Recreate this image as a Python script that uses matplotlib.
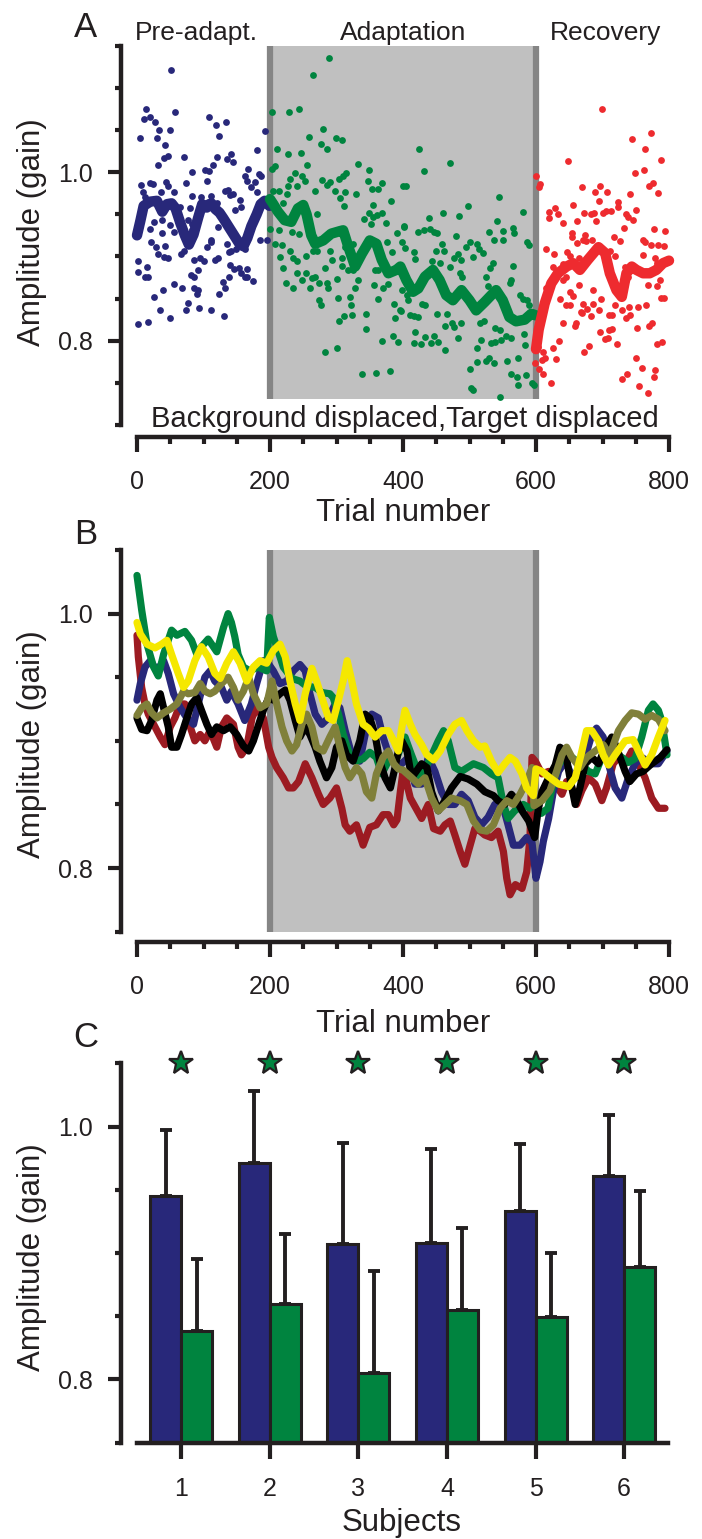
import numpy as np
import matplotlib
matplotlib.use("Agg")
import matplotlib.pyplot as plt
from matplotlib.ticker import MultipleLocator, FixedLocator, FormatStrFormatter

# ------------------------------------------
# Data - Panel A (single subject, trial by trial gain)
# ------------------------------------------

pre_dots = [
    (51, 1.121), (14, 1.075), (57, 1.071), (10, 1.063), (19, 1.065), (27, 1.060), (109, 1.065),
    (119, 1.056), (134, 1.059), (33, 1.050), (50, 1.050), (123, 1.043), (5, 1.040), (30, 1.040),
    (192, 1.049), (42, 1.032), (180, 1.026), (41, 1.017), (47, 1.019), (70, 1.018), (120, 1.018),
    (135, 1.015), (141, 1.021), (144, 1.012), (31, 1.008), (114, 1.009), (167, 1.004), (83, 1.000),
    (102, 1.003), (109, 1.001), (183, 0.998), (187, 0.996), (6, 0.985), (19, 0.987), (24, 0.986),
    (44, 0.988), (47, 0.983), (162, 0.996), (165, 0.990), (105, 0.989), (74, 0.987), (172, 0.982),
    (178, 0.988), (9, 0.976), (12, 0.970), (36, 0.977), (55, 0.976), (132, 0.978), (137, 0.979),
    (140, 0.973), (145, 0.974), (82, 0.972), (96, 0.970), (112, 0.972), (155, 0.967), (180, 0.976),
    (65, 0.959), (79, 0.957), (100, 0.963), (107, 0.965), (121, 0.963), (147, 0.955), (157, 0.959),
    (37, 0.943), (25, 0.941), (50, 0.937), (77, 0.943), (82, 0.938), (20, 0.933), (37, 0.928),
    (55, 0.929), (70, 0.928), (82, 0.931), (122, 0.935), (185, 0.919), (195, 0.919), (21, 0.917),
    (28, 0.911), (42, 0.912), (105, 0.911), (111, 0.920), (112, 0.917), (136, 0.915), (139, 0.905),
    (141, 0.907), (149, 0.909), (162, 0.909), (31, 0.903), (41, 0.899), (46, 0.898), (66, 0.903),
    (70, 0.906), (86, 0.896), (95, 0.898), (101, 0.894), (117, 0.896), (122, 0.898), (1, 0.895),
    (2, 0.882), (12, 0.876), (15, 0.887), (16, 0.875), (92, 0.884), (140, 0.890), (146, 0.885),
    (153, 0.886), (165, 0.885), (157, 0.880), (163, 0.875), (166, 0.876), (175, 0.871), (81, 0.878),
    (85, 0.875), (139, 0.876), (130, 0.870), (133, 0.863), (56, 0.867), (68, 0.862), (85, 0.862),
    (90, 0.856), (92, 0.860), (124, 0.855), (39, 0.860), (26, 0.852), (77, 0.845), (73, 0.837),
    (35, 0.836), (49, 0.827), (93, 0.839), (111, 0.836), (131, 0.829), (1, 0.820), (17, 0.822),
]

adapt_dots = [
    (289, 1.136), (265, 1.115), (203, 1.071), (229, 1.071), (244, 1.075), (280, 1.051), (258, 1.042),
    (299, 1.040), (308, 1.038), (276, 1.033), (285, 1.027), (211, 1.027), (227, 1.021), (247, 1.023),
    (256, 1.009), (332, 1.010), (349, 1.003), (203, 1.004), (208, 1.007), (238, 0.999), (248, 0.995),
    (252, 0.990), (230, 0.992), (227, 0.983), (241, 0.983), (278, 0.991), (285, 0.985), (290, 0.988),
    (304, 0.992), (310, 0.995), (314, 0.999), (268, 0.978), (298, 0.978), (313, 0.976), (330, 0.974),
    (348, 0.990), (354, 0.980), (363, 0.980), (369, 0.987), (400, 0.984), (305, 0.969), (312, 0.960),
    (355, 0.961), (382, 0.966), (204, 0.978), (213, 0.978), (225, 0.974), (220, 0.963), (349, 0.952),
    (355, 0.947), (361, 0.949), (369, 0.951), (374, 0.940), (341, 0.944), (352, 0.939), (271, 0.950),
    (391, 0.928), (401, 0.935), (200, 0.933), (214, 0.931), (233, 0.929), (243, 0.927), (208, 0.915),
    (218, 0.913), (230, 0.906), (254, 0.901), (265, 0.906), (270, 0.906), (290, 0.907), (313, 0.911),
    (325, 0.915), (376, 0.917), (383, 0.905), (398, 0.917), (215, 0.899), (220, 0.886), (235, 0.898),
    (240, 0.894), (293, 0.896), (308, 0.898), (309, 0.889), (317, 0.884), (325, 0.884), (358, 0.884),
    (363, 0.884), (386, 0.884), (240, 0.880), (248, 0.872), (254, 0.880), (263, 0.874), (282, 0.886),
    (224, 0.869), (234, 0.862), (268, 0.876), (274, 0.869), (285, 0.868), (287, 0.862), (300, 0.873),
    (260, 0.862), (333, 0.872), (328, 0.862), (320, 0.852), (356, 0.866), (370, 0.862), (378, 0.867),
    (398, 0.860), (273, 0.848), (276, 0.842), (303, 0.851), (362, 0.849), (387, 0.844), (322, 0.842),
    (324, 0.831), (345, 0.832), (311, 0.829), (304, 0.823), (388, 0.827), (397, 0.835), (345, 0.814),
    (385, 0.806), (393, 0.799), (368, 0.800), (283, 0.787), (300, 0.791), (338, 0.760), (360, 0.762),
    (380, 0.764), (424, 1.028), (471, 1.011), (431, 1.001), (405, 0.983), (545, 0.970), (497, 0.960),
    (460, 0.952), (484, 0.948), (580, 0.953), (439, 0.945), (542, 0.942), (402, 0.936), (422, 0.929),
    (432, 0.931), (440, 0.932), (446, 0.929), (451, 0.928), (480, 0.924), (530, 0.929), (537, 0.920),
    (550, 0.920), (551, 0.930), (566, 0.934), (567, 0.928), (586, 0.917), (590, 0.914), (458, 0.915),
    (462, 0.907), (450, 0.906), (495, 0.911), (501, 0.917), (511, 0.915), (514, 0.909), (520, 0.904),
    (482, 0.903), (487, 0.896), (477, 0.898), (506, 0.899), (403, 0.910), (417, 0.905), (418, 0.897),
    (443, 0.894), (456, 0.892), (471, 0.887), (486, 0.880), (488, 0.876), (535, 0.892), (531, 0.886),
    (566, 0.889), (525, 0.876), (528, 0.865), (563, 0.872), (561, 0.868), (576, 0.854), (580, 0.850),
    (586, 0.848), (590, 0.842), (406, 0.854), (408, 0.848), (428, 0.844), (433, 0.842), (451, 0.832),
    (466, 0.832), (396, 0.836), (411, 0.830), (416, 0.829), (423, 0.828), (463, 0.818), (473, 0.821),
    (476, 0.816), (487, 0.821), (516, 0.821), (522, 0.823), (538, 0.815), (546, 0.813), (418, 0.810),
    (433, 0.804), (447, 0.806), (452, 0.799), (416, 0.797), (427, 0.796), (442, 0.797), (463, 0.789),
    (483, 0.803), (518, 0.801), (533, 0.797), (539, 0.799), (547, 0.801), (555, 0.805), (563, 0.803),
    (582, 0.808), (584, 0.795), (511, 0.791), (512, 0.775), (525, 0.776), (530, 0.779), (537, 0.774),
    (557, 0.776), (573, 0.779), (500, 0.767), (563, 0.761), (571, 0.757), (585, 0.759), (573, 0.748),
    (502, 0.744), (506, 0.742), (546, 0.733), (594, 0.750), (597, 0.748),
]

recov_dots = [
    (699, 1.075), (773, 1.046), (745, 1.039), (764, 1.027), (788, 1.014), (648, 1.013), (762, 1.003),
    (749, 0.999), (600, 0.996), (606, 0.986), (604, 0.982), (776, 0.987), (770, 0.984), (784, 0.975),
    (669, 0.982), (696, 0.984), (689, 0.976), (707, 0.976), (741, 0.974), (695, 0.966), (655, 0.961),
    (724, 0.964), (723, 0.959), (628, 0.957), (619, 0.953), (633, 0.950), (620, 0.946), (672, 0.951),
    (682, 0.950), (687, 0.952), (700, 0.952), (705, 0.954), (713, 0.954), (736, 0.950), (739, 0.947),
    (750, 0.955), (746, 0.943), (640, 0.940), (662, 0.942), (690, 0.942), (733, 0.934), (778, 0.933),
    (794, 0.930), (654, 0.928), (674, 0.926), (654, 0.923), (717, 0.923), (726, 0.918), (661, 0.916),
    (670, 0.920), (675, 0.918), (684, 0.919), (761, 0.919), (764, 0.917), (773, 0.913), (784, 0.914),
    (792, 0.912), (615, 0.909), (627, 0.903), (646, 0.905), (651, 0.900), (664, 0.898), (711, 0.907),
    (719, 0.900), (761, 0.902), (779, 0.898), (782, 0.892), (626, 0.888), (640, 0.891), (645, 0.875),
    (641, 0.872), (734, 0.888), (739, 0.875), (769, 0.866), (782, 0.865), (787, 0.872), (665, 0.866),
    (686, 0.860), (615, 0.862), (651, 0.858), (656, 0.853), (697, 0.849), (636, 0.850), (645, 0.842),
    (651, 0.842), (671, 0.844), (685, 0.844), (677, 0.838), (669, 0.833), (719, 0.842), (729, 0.836),
    (740, 0.840), (754, 0.840), (766, 0.842), (667, 0.834), (694, 0.836), (683, 0.829), (710, 0.830),
    (714, 0.830), (788, 0.851), (792, 0.851), (741, 0.830), (736, 0.827), (641, 0.821), (660, 0.821),
    (659, 0.818), (752, 0.815), (770, 0.817), (774, 0.821), (710, 0.813), (715, 0.814), (696, 0.810),
    (704, 0.802), (709, 0.803), (722, 0.796), (782, 0.796), (789, 0.798), (635, 0.800), (672, 0.787),
    (680, 0.794), (625, 0.791), (611, 0.787), (609, 0.777), (603, 0.793), (630, 0.778), (614, 0.779),
    (599, 0.774), (604, 0.767), (610, 0.761), (622, 0.750), (751, 0.780), (759, 0.768), (737, 0.760),
    (729, 0.754), (779, 0.765), (777, 0.757), (755, 0.746), (768, 0.738),
]

# running averages drawn over the dots
pre_mean = [
    (0, 0.925), (5, 0.942), (10, 0.960), (20, 0.965), (30, 0.966), (38, 0.953), (45, 0.962),
    (52, 0.963), (58, 0.957), (65, 0.940), (72, 0.925), (78, 0.914), (85, 0.926), (92, 0.946),
    (98, 0.962), (105, 0.958), (112, 0.963), (118, 0.956), (124, 0.952), (130, 0.945), (138, 0.935),
    (146, 0.925), (154, 0.915), (160, 0.912), (166, 0.922), (172, 0.936), (180, 0.950),
    (186, 0.962), (192, 0.966), (199, 0.960),
]
adapt_mean = [
    (200, 0.968), (205, 0.962), (212, 0.953), (222, 0.943), (232, 0.941), (242, 0.957), (250, 0.961),
    (255, 0.950), (262, 0.925), (268, 0.915), (280, 0.919), (292, 0.927), (305, 0.930), (310, 0.931),
    (318, 0.911), (328, 0.888), (338, 0.903), (350, 0.919), (360, 0.915), (368, 0.896), (378, 0.880),
    (390, 0.884), (396, 0.888), (405, 0.872), (415, 0.858), (423, 0.862), (433, 0.876), (445, 0.884),
    (455, 0.872), (465, 0.854), (475, 0.848), (488, 0.860), (500, 0.848), (510, 0.836), (523, 0.846),
    (540, 0.860), (550, 0.848), (560, 0.828), (570, 0.823), (583, 0.825), (593, 0.832), (600, 0.830),
]
recov_mean = [
    (600, 0.790), (604, 0.813), (613, 0.844), (623, 0.868), (633, 0.880), (646, 0.888), (656, 0.892),
    (666, 0.884), (678, 0.896), (694, 0.911), (704, 0.904), (711, 0.880), (721, 0.860), (729, 0.852),
    (736, 0.880), (744, 0.888), (751, 0.884), (761, 0.880), (771, 0.880), (781, 0.884), (791, 0.892),
    (800, 0.895),
]

phase_edges = [200, 600]
phase_names = ["Pre-adapt.", "Adaptation", "Recovery"]
phase_label_trial = [89, 400, 704]

# ------------------------------------------
# Data - Panel B (running averages, six subjects)
# ------------------------------------------

b_maroon = [
    (0, 0.983), (2, 0.966), (7, 0.942), (12, 0.929), (17, 0.921), (27, 0.911), (35, 0.903), (42, 0.897),
    (50, 0.911), (57, 0.918), (65, 0.929), (72, 0.929), (80, 0.911), (87, 0.900), (95, 0.905),
    (102, 0.900), (110, 0.908), (120, 0.895), (127, 0.911), (135, 0.918), (145, 0.913), (152, 0.895),
    (157, 0.889), (165, 0.895), (173, 0.918), (180, 0.926), (190, 0.918), (198, 0.895), (203, 0.887),
    (210, 0.879), (220, 0.871), (228, 0.863), (235, 0.863), (243, 0.868), (253, 0.882), (263, 0.871),
    (273, 0.858), (280, 0.850), (290, 0.855), (300, 0.863), (308, 0.847), (313, 0.834), (320, 0.829),
    (330, 0.834), (340, 0.818), (350, 0.832), (360, 0.834), (370, 0.842), (378, 0.842), (386, 0.834),
    (391, 0.838), (396, 0.860), (400, 0.876), (405, 0.868), (411, 0.855), (428, 0.839), (438, 0.850),
    (446, 0.831), (456, 0.829), (463, 0.834), (471, 0.837), (478, 0.826), (486, 0.813), (493, 0.803),
    (501, 0.818), (508, 0.831), (516, 0.829), (523, 0.826), (533, 0.824), (543, 0.829), (551, 0.813),
    (556, 0.792), (561, 0.779), (569, 0.787), (579, 0.784), (586, 0.797), (591, 0.824), (594, 0.887),
    (599, 0.884), (609, 0.874), (619, 0.876), (629, 0.866), (639, 0.858), (646, 0.868), (654, 0.863),
    (661, 0.850), (669, 0.861), (679, 0.871), (689, 0.866), (699, 0.853), (706, 0.863), (716, 0.882),
    (724, 0.887), (734, 0.882), (744, 0.892), (754, 0.882), (764, 0.871), (774, 0.855), (784, 0.847),
    (794, 0.847),
]
b_blue = [
    (0, 0.932), (5, 0.945), (12, 0.958), (20, 0.963), (30, 0.955), (40, 0.963), (47, 0.953), (55, 0.937),
    (65, 0.926), (75, 0.918), (85, 0.913), (92, 0.929), (102, 0.950), (110, 0.955), (117, 0.947),
    (127, 0.942), (135, 0.932), (142, 0.939), (152, 0.929), (162, 0.916), (172, 0.929), (180, 0.945),
    (190, 0.963), (197, 0.961), (205, 0.955), (215, 0.945), (225, 0.947), (235, 0.955), (245, 0.960),
    (253, 0.955), (260, 0.937), (268, 0.921), (278, 0.913), (288, 0.918), (298, 0.929), (305, 0.926),
    (313, 0.908), (323, 0.889), (335, 0.884), (345, 0.910), (353, 0.921), (363, 0.918), (370, 0.903),
    (380, 0.887), (390, 0.882), (398, 0.882), (408, 0.887), (418, 0.866), (428, 0.866), (438, 0.887),
    (448, 0.876), (458, 0.860), (468, 0.850), (478, 0.850), (488, 0.858), (498, 0.853), (508, 0.840),
    (518, 0.834), (528, 0.840), (538, 0.850), (548, 0.853), (558, 0.834), (566, 0.818), (576, 0.818),
    (586, 0.824), (594, 0.820), (600, 0.792), (606, 0.805), (611, 0.821), (619, 0.839), (626, 0.860),
    (634, 0.876), (644, 0.884), (651, 0.876), (661, 0.871), (671, 0.882), (684, 0.905), (691, 0.910),
    (701, 0.903), (709, 0.882), (719, 0.863), (729, 0.855), (739, 0.871), (749, 0.882), (759, 0.887),
    (774, 0.882), (784, 0.882), (797, 0.892),
]
b_green = [
    (0, 1.030), (7, 1.003), (15, 0.976), (25, 0.958), (32, 0.951), (40, 0.968), (52, 0.987), (60, 0.983),
    (72, 0.986), (82, 0.979), (90, 0.968), (97, 0.974), (107, 0.980), (120, 0.970), (130, 0.989),
    (137, 1.000), (142, 0.993), (147, 0.982), (152, 0.968), (160, 0.958), (170, 0.955), (182, 0.958),
    (195, 0.955), (199, 0.997), (205, 0.982), (212, 0.971), (220, 0.958), (233, 0.949), (245, 0.947),
    (255, 0.943), (268, 0.942), (278, 0.938), (290, 0.937), (295, 0.934), (303, 0.921), (310, 0.905),
    (320, 0.889), (330, 0.884), (340, 0.886), (350, 0.891), (360, 0.887), (368, 0.874), (378, 0.884),
    (390, 0.886), (403, 0.903), (412, 0.890), (426, 0.871), (440, 0.885), (453, 0.900), (461, 0.908),
    (468, 0.900), (478, 0.879), (488, 0.876), (506, 0.882), (521, 0.879), (533, 0.874), (543, 0.871),
    (551, 0.850), (558, 0.839), (568, 0.845), (581, 0.850), (591, 0.847), (598, 0.850), (608, 0.843),
    (618, 0.847), (626, 0.868), (634, 0.881), (644, 0.889), (654, 0.887), (669, 0.881), (679, 0.876),
    (689, 0.874), (699, 0.887), (714, 0.892), (729, 0.887), (739, 0.883), (749, 0.886), (759, 0.903),
    (769, 0.924), (776, 0.929), (784, 0.924), (789, 0.916), (797, 0.889),
]
b_black = [
    (0, 0.918), (7, 0.909), (15, 0.908), (22, 0.916), (30, 0.932), (35, 0.937), (40, 0.926), (47, 0.911),
    (52, 0.895), (60, 0.895), (67, 0.905), (75, 0.918), (82, 0.929), (90, 0.934), (97, 0.924),
    (105, 0.913), (112, 0.905), (120, 0.911), (130, 0.908), (140, 0.911), (150, 0.905), (160, 0.896),
    (168, 0.892), (175, 0.900), (183, 0.913), (190, 0.924), (198, 0.934), (205, 0.932), (215, 0.937),
    (223, 0.940), (230, 0.932), (238, 0.916), (245, 0.903), (253, 0.911), (260, 0.905), (268, 0.895),
    (275, 0.884), (285, 0.871), (293, 0.879), (300, 0.895), (308, 0.900), (315, 0.889), (325, 0.884),
    (335, 0.900), (343, 0.921), (350, 0.918), (358, 0.905), (365, 0.884), (373, 0.871), (381, 0.863),
    (388, 0.879), (393, 0.892), (398, 0.900), (406, 0.892), (413, 0.871), (428, 0.882), (436, 0.879),
    (443, 0.860), (453, 0.845), (463, 0.853), (473, 0.863), (486, 0.872), (498, 0.870), (511, 0.866),
    (523, 0.860), (536, 0.857), (543, 0.853), (553, 0.850), (563, 0.858), (571, 0.853), (579, 0.845),
    (589, 0.837), (598, 0.824), (603, 0.845), (609, 0.860), (619, 0.871), (629, 0.881), (636, 0.895),
    (644, 0.892), (651, 0.871), (659, 0.850), (666, 0.863), (674, 0.882), (684, 0.887), (694, 0.882),
    (704, 0.895), (714, 0.903), (721, 0.895), (734, 0.876), (741, 0.868), (751, 0.874), (761, 0.876),
    (774, 0.882), (787, 0.887), (797, 0.893),
]
b_olive = [
    (0, 0.920), (7, 0.926), (15, 0.929), (22, 0.922), (30, 0.918), (40, 0.922), (50, 0.925), (60, 0.929),
    (70, 0.939), (77, 0.937), (87, 0.938), (95, 0.945), (102, 0.939), (110, 0.937), (117, 0.939),
    (127, 0.945), (137, 0.950), (145, 0.942), (152, 0.932), (160, 0.939), (168, 0.950), (175, 0.937),
    (185, 0.926), (195, 0.929), (203, 0.947), (210, 0.929), (218, 0.911), (225, 0.900), (233, 0.892),
    (240, 0.897), (248, 0.913), (255, 0.921), (263, 0.911), (270, 0.895), (280, 0.892), (290, 0.903),
    (298, 0.911), (305, 0.895), (313, 0.879), (320, 0.871), (330, 0.879), (338, 0.874), (345, 0.860),
    (353, 0.855), (360, 0.874), (370, 0.887), (378, 0.892), (386, 0.882), (393, 0.878), (400, 0.877),
    (413, 0.871), (423, 0.866), (433, 0.871), (443, 0.855), (453, 0.845), (463, 0.850), (473, 0.855),
    (486, 0.853), (496, 0.850), (506, 0.837), (516, 0.830), (526, 0.829), (536, 0.834), (546, 0.847),
    (556, 0.853), (566, 0.850), (576, 0.858), (586, 0.868), (594, 0.879), (597, 0.849), (609, 0.853),
    (621, 0.861), (631, 0.876), (639, 0.889), (646, 0.895), (654, 0.887), (666, 0.879), (676, 0.887),
    (689, 0.892), (701, 0.897), (711, 0.889), (724, 0.908), (734, 0.916), (744, 0.922), (754, 0.921),
    (764, 0.917), (774, 0.920), (784, 0.917), (794, 0.908),
]
b_yellow = [
    (0, 0.993), (5, 0.984), (15, 0.976), (27, 0.973), (37, 0.976), (45, 0.979), (52, 0.968), (62, 0.953),
    (70, 0.942), (77, 0.947), (87, 0.963), (97, 0.974), (107, 0.966), (117, 0.953), (125, 0.949),
    (135, 0.961), (145, 0.970), (155, 0.961), (165, 0.947), (175, 0.958), (185, 0.963), (195, 0.961),
    (205, 0.971), (215, 0.976), (223, 0.966), (230, 0.947), (238, 0.929), (245, 0.916), (253, 0.937),
    (263, 0.957), (270, 0.947), (278, 0.934), (288, 0.918), (295, 0.916), (303, 0.932), (310, 0.947),
    (316, 0.963), (323, 0.947), (330, 0.929), (340, 0.913), (348, 0.910), (358, 0.903), (368, 0.908),
    (378, 0.908), (386, 0.900), (393, 0.892), (398, 0.910), (403, 0.924), (411, 0.913), (418, 0.905),
    (428, 0.897), (436, 0.889), (446, 0.885), (456, 0.892), (468, 0.905), (478, 0.913), (488, 0.916),
    (496, 0.908), (506, 0.900), (516, 0.895), (523, 0.896), (533, 0.884), (543, 0.875), (553, 0.882),
    (561, 0.887), (569, 0.884), (579, 0.874), (586, 0.863), (596, 0.857), (600, 0.878), (609, 0.876),
    (621, 0.871), (634, 0.866), (649, 0.864), (659, 0.871), (669, 0.892), (676, 0.908), (684, 0.908),
    (694, 0.900), (701, 0.889), (709, 0.881), (719, 0.889), (734, 0.900), (746, 0.901), (754, 0.892),
    (764, 0.881), (774, 0.889), (784, 0.903), (794, 0.916),
]

# ------------------------------------------
# Data - Panel C (mean +/- SD per subject)
# ------------------------------------------

subjects = [1, 2, 3, 4, 5, 6]
pre_gain = [0.945, 0.971, 0.907, 0.908, 0.933, 0.961]
pre_sd = [0.052, 0.057, 0.080, 0.074, 0.053, 0.048]
adapt_gain = [0.838, 0.860, 0.805, 0.855, 0.849, 0.889]
adapt_sd = [0.057, 0.055, 0.081, 0.065, 0.051, 0.060]
significant = [True, True, True, True, True, True]

# ------------------------------------------
# Style
# ------------------------------------------

plt.rcParams["font.family"] = ["Liberation Sans", "DejaVu Sans"]

NAVY = "#28287a"
GREEN = "#00843f"
RED = "#ee2b2f"
MAROON = "#9c1b22"
OLIVE = "#80803a"
YELLOW = "#f5e800"
SHADE = "#c0c0c0"
EDGE = "#858585"
INK = "#231f20"

W, H = 702, 1539


def fx(px):
    return px / W


def fy(py):
    return 1 - py / H


def axes_rect(x0, x1, y0, y1):
    return [fx(x0), fy(y1), (x1 - x0) / W, (y1 - y0) / H]


def style_y(ax, lo, hi):
    ax.set_ylim(lo, hi)
    ax.yaxis.set_major_locator(FixedLocator([0.8, 1.0]))
    ax.yaxis.set_minor_locator(FixedLocator(np.round(np.arange(lo, hi + 0.001, 0.05), 2)))
    ax.yaxis.set_major_formatter(FormatStrFormatter("%.1f"))
    ax.tick_params(axis="y", which="major", length=9.7, width=3, pad=10, labelsize=18, colors=INK)
    ax.tick_params(axis="y", which="minor", length=4.3, width=3, colors=INK)
    ax.spines["left"].set_position(("outward", 11.8))
    ax.spines["left"].set_linewidth(3.2)
    ax.spines["left"].set_color(INK)
    ax.spines["top"].set_visible(False)
    ax.spines["right"].set_visible(False)


def style_trials(ax, offset):
    ax.set_xlim(0, 800)
    ax.xaxis.set_major_locator(MultipleLocator(200))
    ax.xaxis.set_minor_locator(MultipleLocator(50))
    ax.tick_params(axis="x", which="major", length=10.8, width=3, pad=13, labelsize=18, colors=INK)
    ax.tick_params(axis="x", which="minor", length=5.3, width=3, colors=INK)
    ax.spines["bottom"].set_position(("outward", offset))
    ax.spines["bottom"].set_linewidth(3.2)
    ax.spines["bottom"].set_color(INK)


def xy(pairs):
    arr = np.array(pairs)
    return arr[:, 0], arr[:, 1]


fig = plt.figure(figsize=(W / 100, H / 100), dpi=100)

# ------------------------------------------
# Panel A
# ------------------------------------------

ax_a = fig.add_axes(axes_rect(137, 669, 45.7, 425))
style_y(ax_a, 0.70, 1.15)
style_trials(ax_a, 8.4)

ax_a.fill_between(phase_edges, 0.731, 1.15, color=SHADE, lw=0, zorder=0)
ax_a.vlines(phase_edges, 0.731, 1.15, color=EDGE, lw=4.5, zorder=1)

for dots, col in [(pre_dots, NAVY), (adapt_dots, GREEN), (recov_dots, RED)]:
    t, v = xy(dots)
    ax_a.scatter(t, v, s=24, color=col, lw=0, zorder=2, clip_on=False)

for line, col in [(pre_mean, NAVY), (adapt_mean, GREEN), (recov_mean, RED)]:
    t, v = xy(line)
    ax_a.plot(t, v, color=col, lw=7.5, solid_capstyle="round", solid_joinstyle="round",
              zorder=3, clip_on=False)

for name, t in zip(phase_names, phase_label_trial):
    ax_a.text(t, 1.157, name, ha="center", va="baseline", fontsize=19, color=INK)

ax_a.text(403, 0.698, "Background displaced,Target displaced", ha="center", va="baseline",
          fontsize=21, color=INK)

# ------------------------------------------
# Panel B
# ------------------------------------------

ax_b = fig.add_axes(axes_rect(137, 669, 550, 931.7))
style_y(ax_b, 0.75, 1.05)
style_trials(ax_b, 7.2)

ax_b.fill_between(phase_edges, 0.75, 1.05, color=SHADE, lw=0, zorder=0)
ax_b.vlines(phase_edges, 0.75, 1.05, color=EDGE, lw=4.5, zorder=1)

for line, col in [(b_maroon, MAROON), (b_blue, NAVY), (b_green, GREEN),
                  (b_black, "black"), (b_olive, OLIVE), (b_yellow, YELLOW)]:
    t, v = xy(line)
    ax_b.plot(t, v, color=col, lw=5.2, solid_capstyle="round", solid_joinstyle="round",
              zorder=3, clip_on=False)

# ------------------------------------------
# Panel C
# ------------------------------------------

ax_c = fig.add_axes(axes_rect(137, 668.4, 1063.3, 1442.7))
style_y(ax_c, 0.75, 1.05)
ax_c.set_xlim(0.5, 6.5)
ax_c.set_xticks(subjects)
ax_c.tick_params(axis="x", length=11.3, width=3, pad=13.5, labelsize=18, colors=INK)
ax_c.spines["bottom"].set_linewidth(3.2)
ax_c.spines["bottom"].set_color(INK)

x = np.array(subjects, dtype=float)
bw = 0.35
pre_gain = np.array(pre_gain)
adapt_gain = np.array(adapt_gain)

ax_c.bar(x - bw / 2, pre_gain - 0.75, bw, bottom=0.75, color=NAVY, edgecolor=INK, lw=2.2, zorder=2)
ax_c.bar(x + bw / 2, adapt_gain - 0.75, bw, bottom=0.75, color=GREEN, edgecolor=INK, lw=2.2, zorder=2)

ax_c.errorbar(x - bw / 2, pre_gain, yerr=[np.zeros(6), pre_sd], fmt="none", ecolor=INK,
              elinewidth=2.8, capsize=4, capthick=2.8, zorder=1)
ax_c.errorbar(x + bw / 2, adapt_gain, yerr=[np.zeros(6), adapt_sd], fmt="none", ecolor=INK,
              elinewidth=2.8, capsize=4, capthick=2.8, zorder=1)

for xi, sig in zip(x, significant):
    if sig:
        ax_c.plot(xi, 1.05, marker="*", ms=18, mfc=GREEN, mec=INK, mew=1.6,
                  clip_on=False, zorder=5)

# ------------------------------------------
# Figure Labels
# ------------------------------------------

for letter, base in [("A", 36.7), ("B", 544), ("C", 1047)]:
    fig.text(fx(86), fy(base), letter, ha="center", va="baseline", fontsize=25, color=INK)

for yc in [232.5, 744, 1256.7]:
    fig.text(fx(32), fy(yc), "Amplitude (gain)", rotation=90, ha="center", va="center",
             fontsize=22.5, color=INK)

fig.text(fx(403), fy(521), "Trial number", ha="center", va="baseline", fontsize=22.5, color=INK)
fig.text(fx(403), fy(1031.5), "Trial number", ha="center", va="baseline", fontsize=22.5, color=INK)
fig.text(fx(402), fy(1531), "Subjects", ha="center", va="baseline", fontsize=22.5, color=INK)

fig.savefig("out.png", dpi=100)
